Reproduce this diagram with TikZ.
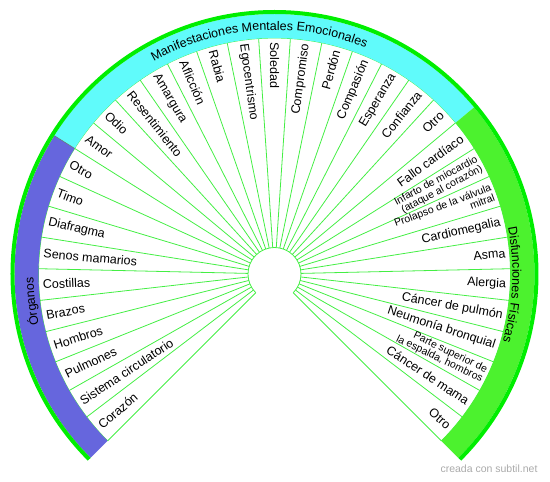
\documentclass[tikz,border=0pt]{standalone}
\usepackage{fontspec}
\setmainfont{Liberation Sans}
\usetikzlibrary{decorations.text}
\pgfdeclarelayer{bg}
\pgfsetlayers{bg,main}
\definecolor{organo}{HTML}{6666DD}
\definecolor{mental}{HTML}{60FBFB}
\definecolor{fisica}{HTML}{4CF22E}
\definecolor{borde}{HTML}{00EE00}
\definecolor{rayo}{HTML}{44EE44}
\definecolor{marca}{HTML}{AAAAAA}
\newcommand{\bandfont}{\fontsize{12.5}{14}\selectfont}
\tikzset{
    every node/.style={inner sep=4pt, font=\fontsize{12.5}{13}\selectfont}
}
\tikzset{der/.style={anchor=east}, izq/.style={anchor=west}}
\tikzset{chico/.style={font=\fontsize{10.5}{10.5}\selectfont, align=right, inner sep=3pt}}
\tikzset{rayo/.style={draw=rayo, line width=0.8pt}}

\begin{document}
\begin{tikzpicture}[x=1pt, y=1pt]
        \useasboundingbox (-274.5,-208) rectangle (275.5,274);
        % bandas
        \fill[organo] (225:236) arc[start angle=225, end angle=147.857, radius=236] -- (147.857:260) arc[start angle=147.857, end angle=225, radius=260] -- cycle;
        \fill[mental] (147.857:236) arc[start angle=147.857, end angle=39.857, radius=236] -- (39.857:260) arc[start angle=39.857, end angle=147.857, radius=260] -- cycle;
        \fill[fisica] (39.857:236) arc[start angle=39.857, end angle=-45, radius=236] -- (-45:260) arc[start angle=-45, end angle=39.857, radius=260] -- cycle;
        \draw[borde, line width=4pt] (225:262) arc[start angle=225, end angle=-45, radius=262];
        \draw[black!60, line width=0.5pt] (147.857:236) -- (147.857:260);
        \begin{pgfonlayer}{bg}
                \foreach \k in {0,...,35}
                        \draw[rayo] ({225-\k*7.7142857}:26.5) -- ({225-\k*7.7142857}:236);
                \draw[rayo] (225:26.5) arc[start angle=225, end angle=-45, radius=26.5];
                \draw[rayo] (225:236) arc[start angle=225, end angle=-45, radius=236];
        \end{pgfonlayer}
        % titulos
        \path[decorate, decoration={text along path, text align=center, text={|\bandfont|Órganos}}] (225:241) arc[start angle=225, end angle=147.857, radius=241];
        \path[decorate, decoration={text along path, text align=center, text={|\bandfont|Manifestaciones Mentales Emocionales}}] (147.857:244) arc[start angle=147.857, end angle=39.857, radius=244];
        \path[decorate, decoration={text along path, text align=center, text={|\bandfont|Disfunciones Físicas}}] (39.857:238) arc[start angle=39.857, end angle=-45, radius=238];
        % organos
        \node[izq, rotate=41.143] (l0) at (221.143:236) {Corazón};
        \node[izq, rotate=33.429] (l1) at (213.429:236) {Sistema circulatorio};
        \node[izq, rotate=25.714] (l2) at (205.714:236) {Pulmones};
        \node[izq, rotate=18.000] (l3) at (198.000:236) {Hombros};
        \node[izq, rotate=10.286] (l4) at (190.286:236) {Brazos};
        \node[izq, rotate=2.571] (l5) at (182.571:236) {Costillas};
        \node[izq, rotate=-5.143] (l6) at (174.857:236) {Senos mamarios};
        \node[izq, rotate=-12.857] (l7) at (167.143:236) {Diafragma};
        \node[izq, rotate=-20.571] (l8) at (159.429:236) {Timo};
        \node[izq, rotate=-28.286] (l9) at (151.714:236) {Otro};
        % manifestaciones
        \node[izq, rotate=-36.000] (l10) at (144.000:236) {Amor};
        \node[izq, rotate=-43.714] (l11) at (136.286:236) {Odio};
        \node[izq, rotate=-51.429] (l12) at (128.571:236) {Resentimiento};
        \node[izq, rotate=-59.143] (l13) at (120.857:236) {Amargura};
        \node[izq, rotate=-66.857] (l14) at (113.143:236) {Aflicción};
        \node[izq, rotate=-74.571] (l15) at (105.429:236) {Rabia};
        \node[izq, rotate=-82.286] (l16) at (97.714:236) {Egocentrismo};
        \node[izq, rotate=-90.000] (l17) at (90.000:236) {Soledad};
        \node[der, rotate=82.286] (l18) at (82.286:236) {Compromiso};
        \node[der, rotate=74.571] (l19) at (74.571:236) {Perdón};
        \node[der, rotate=66.857] (l20) at (66.857:236) {Compasión};
        \node[der, rotate=59.143] (l21) at (59.143:236) {Esperanza};
        \node[der, rotate=51.429] (l22) at (51.429:236) {Confianza};
        \node[der, rotate=43.714] (l23) at (43.714:236) {Otro};
        % disfunciones
        \node[der, rotate=36.000] (l24) at (36.000:236) {Fallo cardíaco};
        \node[der, chico, rotate=28.286] (l25) at (28.286:236) {Infarto de miocardio\\(ataque al corazón)};
        \node[der, chico, rotate=20.571] (l26) at (20.571:236) {Prolapso de la válvula\\mitral};
        \node[der, rotate=12.857] (l27) at (12.857:236) {Cardiomegalia};
        \node[der, rotate=5.143] (l28) at (5.143:236) {Asma};
        \node[der, rotate=-2.571] (l29) at (-2.571:236) {Alergia};
        \node[der, rotate=-10.286] (l30) at (-10.286:236) {Cáncer de pulmón};
        \node[der, rotate=-18.000] (l31) at (-18.000:236) {Neumonía bronquial};
        \node[der, chico, rotate=-25.714] (l32) at (-25.714:236) {Parte superior de\\la espalda, hombros};
        \node[der, rotate=-33.429] (l33) at (-33.429:236) {Cáncer de mama};
        \node[der, rotate=-41.143] (l34) at (-41.143:236) {Otro};
        \node[text=marca, font=\fontsize{10.5}{12}\selectfont] (firma) at (214.5,-195) {creada con subtil.net};
\end{tikzpicture}
\end{document}
